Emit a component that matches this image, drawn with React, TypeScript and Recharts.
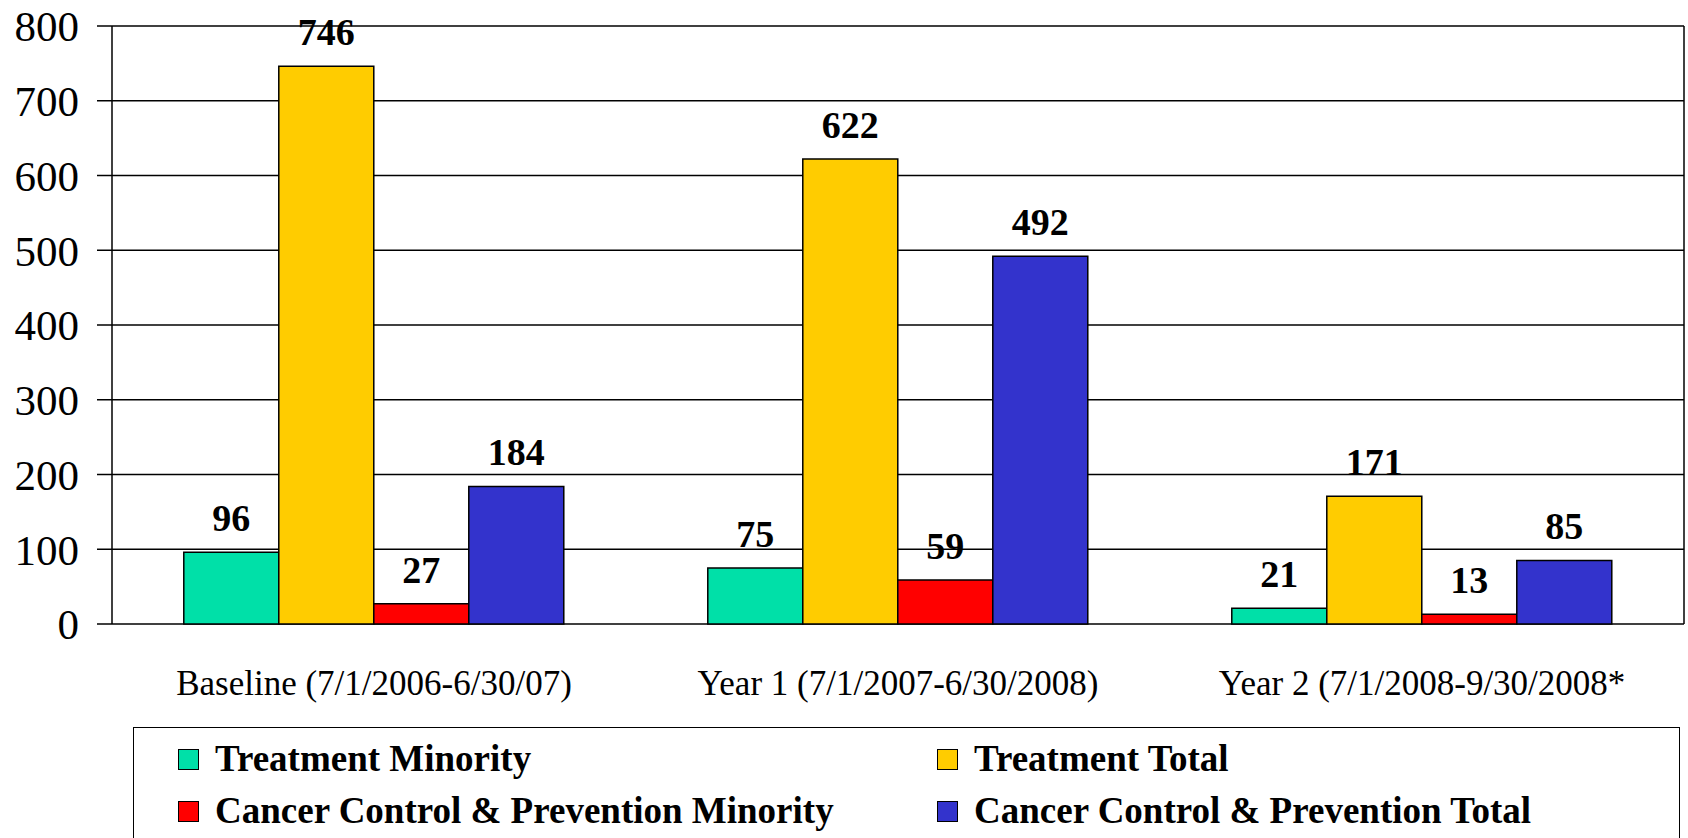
import { Bar, BarChart, CartesianGrid, LabelList, XAxis, YAxis } from "recharts";

const categories = [
  "Baseline (7/1/2006-6/30/07)",
  "Year 1 (7/1/2007-6/30/2008)",
  "Year 2 (7/1/2008-9/30/2008*",
];
const treatmentMinority = [96, 75, 21];
const treatmentTotal = [746, 622, 171];
const ccpMinority = [27, 59, 13];
const ccpTotal = [184, 492, 85];
const yTicks = [0, 100, 200, 300, 400, 500, 600, 700, 800];
const boundaryTicks = [0, 1, 2, 3];

const series = [
  { key: "tm", name: "Treatment Minority", color: "#00E0A8" },
  { key: "tt", name: "Treatment Total", color: "#FFCC00" },
  { key: "cm", name: "Cancer Control & Prevention Minority", color: "#FF0000" },
  { key: "ct", name: "Cancer Control & Prevention Total", color: "#3333CC" },
];

const data = categories.map((category, i) => ({
  category,
  slot: i + 0.5,
  tm: treatmentMinority[i],
  tt: treatmentTotal[i],
  cm: ccpMinority[i],
  ct: ccpTotal[i],
}));

const FONT = '"Liberation Serif", "Times New Roman", serif';

function LegendBox() {
  // legend order: row 1 = treatment, row 2 = cancer control
  return (
    <div
      style={{
        position: "absolute",
        left: 133,
        top: 727,
        width: 1547,
        height: 130,
        border: "1.5px solid #000",
        boxSizing: "border-box",
        fontFamily: FONT,
        fontWeight: "bold",
        fontSize: 37,
        background: "#fff",
      }}
    >
      {series.map((s, i) => (
        <div
          key={s.key}
          style={{
            position: "absolute",
            left: i % 2 === 0 ? 44 : 803,
            top: i < 2 ? 8 : 60,
            display: "flex",
            alignItems: "center",
            whiteSpace: "nowrap",
            lineHeight: "46px",
          }}
        >
          <span
            style={{
              display: "inline-block",
              width: 19,
              height: 19,
              background: s.color,
              border: "1.5px solid #000",
              marginRight: 16,
            }}
          />
          {s.name}
        </div>
      ))}
    </div>
  );
}

export default function App() {
  return (
    <div style={{ position: "absolute", left: 0, top: 0, width: 1688, height: 838, background: "#fff", overflow: "hidden" }}>
      <BarChart
        width={1688}
        height={838}
        data={data}
        margin={{ top: 26, right: 0, left: 0, bottom: 114 }}
        barCategoryGap="13.7%"
        barGap={0}
      >
        <CartesianGrid vertical={false} stroke="#000" strokeWidth={1.5} yAxisId="left" />
        {/* tick marks at the category boundaries */}
        <XAxis
          xAxisId="bounds"
          type="number"
          dataKey="slot"
          domain={[0, 3]}
          ticks={boundaryTicks}
          allowDataOverflow
          height={11}
          axisLine={false}
          tickSize={11}
          tickLine={{ stroke: "#000", strokeWidth: 1.5 }}
          tick={false}
        />
        <XAxis
          xAxisId="cat"
          dataKey="category"
          height={89}
          axisLine={false}
          tickLine={false}
          tickSize={0}
          tickMargin={35}
          interval={0}
          tick={{ fill: "#000", fontSize: 35, fontFamily: FONT }}
        />
        <YAxis
          yAxisId="left"
          width={112}
          domain={[0, 800]}
          ticks={yTicks}
          axisLine={{ stroke: "#000", strokeWidth: 1.5 }}
          tickLine={{ stroke: "#000", strokeWidth: 1.5 }}
          tickSize={15}
          tickMargin={18}
          tick={{ fill: "#000", fontSize: 43, fontFamily: FONT }}
        />
        <YAxis
          yAxisId="right"
          orientation="right"
          width={4}
          domain={[0, 800]}
          tick={false}
          tickLine={false}
          axisLine={{ stroke: "#000", strokeWidth: 1.5 }}
        />
        {series.map((s) => (
          <Bar
            key={s.key}
            dataKey={s.key}
            name={s.name}
            xAxisId="cat"
            yAxisId="left"
            fill={s.color}
            stroke="#000"
            strokeWidth={1.5}
            isAnimationActive={false}
          >
            <LabelList
              dataKey={s.key}
              position="top"
              offset={21}
              fill="#000"
              fontSize={38}
              fontWeight="bold"
              fontFamily={FONT}
            />
          </Bar>
        ))}
      </BarChart>
      <LegendBox />
    </div>
  );
}
